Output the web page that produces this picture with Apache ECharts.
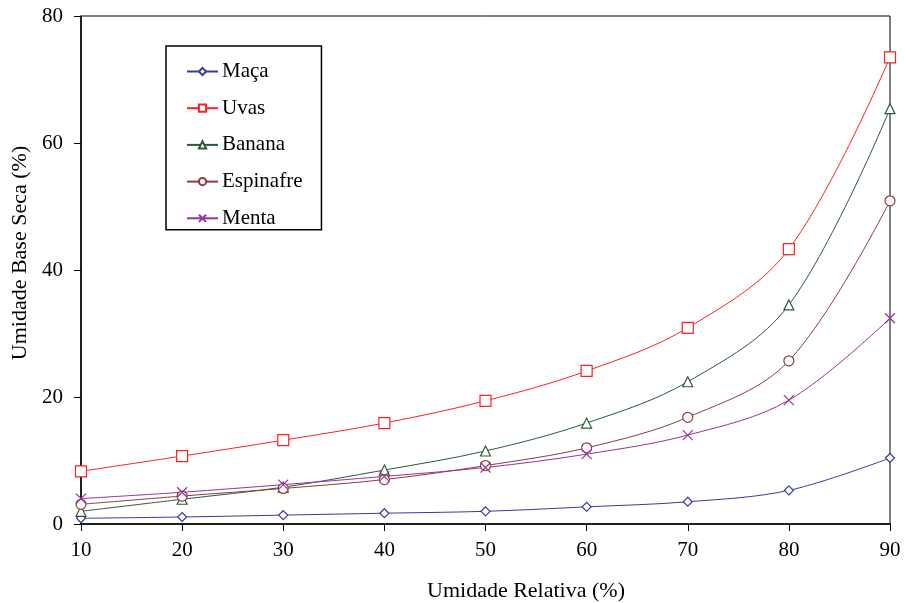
<!DOCTYPE html>
<html><head><meta charset="utf-8">
<script src="https://cdn.jsdelivr.net/npm/echarts@6/dist/echarts.min.js"></script>
<style>html,body{margin:0;padding:0;background:#fff}#c{width:905px;height:603px}</style>
</head><body><div id="c"></div>
<script>
const umidadeRelativa = [10, 20, 30, 40, 50, 60, 70, 80, 90];
const maca      = [0.9, 1.1, 1.4, 1.7, 2.0, 2.7, 3.5, 5.3, 10.4];
const uvas      = [8.3, 10.7, 13.2, 15.9, 19.4, 24.1, 30.9, 43.3, 73.5];
const banana    = [2.0, 3.9, 5.8, 8.5, 11.5, 15.9, 22.4, 34.5, 65.4];
const espinafre = [3.1, 4.4, 5.6, 7.0, 9.2, 12.0, 16.8, 25.7, 50.9];
const menta     = [4.0, 5.0, 6.2, 7.5, 8.9, 11.0, 14.0, 19.5, 32.4];
const xTicks = [10, 20, 30, 40, 50, 60, 70, 80, 90];
const yTicks = [0, 20, 40, 60, 80];

const font = 'Liberation Serif';
function pairs(arr){ return umidadeRelativa.map((x,i)=>[x, arr[i]]); }
function mk(name, data, color, symbol, size){
  return {
    name, type:'line', data: pairs(data), smooth: 0.35,
    symbol, symbolSize: size, showSymbol: true,
    lineStyle:{color, width:1},
    itemStyle:{color:'#fff', borderColor:color, borderWidth:1.2},
    emphasis:{disabled:true}
  };
}
const chart = echarts.init(document.getElementById('c'));
chart.setOption({
  animation:false,
  backgroundColor:'#fff',
  grid:{left:81, right:15, top:16, bottom:79, outerBoundsMode:'none', containLabel:false,
        show:true, borderColor:'#000', borderWidth:1, backgroundColor:'transparent'},
  legend:{
    orient:'vertical', left:166, top:46,
    borderColor:'#000', borderWidth:1.5,
    padding:[15, 19, 1, 20],
    itemWidth:31, itemHeight:9, itemGap:15.7,
    textStyle:{fontFamily:font, fontSize:21, color:'#000', lineHeight:21, padding:[0,0,0,-1]},
    data:['Maça','Uvas','Banana','Espinafre','Menta']
  },
  xAxis:{
    type:'value', min:xTicks[0], max:xTicks[xTicks.length-1], interval:10,
    name:'Umidade Relativa (%)', nameLocation:'middle', nameGap:56,
    nameTextStyle:{fontFamily:font, fontSize:22, color:'#000', padding:[0,0,0,81]},
    axisLine:{lineStyle:{color:'#000', width:1.5}},
    axisTick:{show:true, inside:false, length:7, lineStyle:{color:'#000'}},
    axisLabel:{fontFamily:font, fontSize:21, color:'#000', margin:16},
    splitLine:{show:false}
  },
  yAxis:{
    type:'value', min:yTicks[0], max:yTicks[yTicks.length-1], interval:20,
    name:'Umidade Base Seca (%)', nameLocation:'middle', nameGap:50,
    nameTextStyle:{fontFamily:font, fontSize:22, color:'#000', padding:[0,0,0,34]},
    axisLine:{lineStyle:{color:'#000', width:1.5}},
    axisTick:{show:true, inside:false, length:7, lineStyle:{color:'#000'}},
    axisLabel:{fontFamily:font, fontSize:21, color:'#000', margin:18},
    splitLine:{show:false}
  },
  series:[
    mk('Maça', maca, '#3a3aa0', 'diamond', 9),
    mk('Uvas', uvas, '#ff2020', 'rect', 11),
    mk('Banana', banana, '#2f5a3a', 'triangle', 10),
    mk('Espinafre', espinafre, '#8e3c3c', 'circle', 10),
    mk('Menta', menta, '#993399', 'path://M0,0L10,10M10,0L0,10', 10)
  ]
});
</script></body></html>
